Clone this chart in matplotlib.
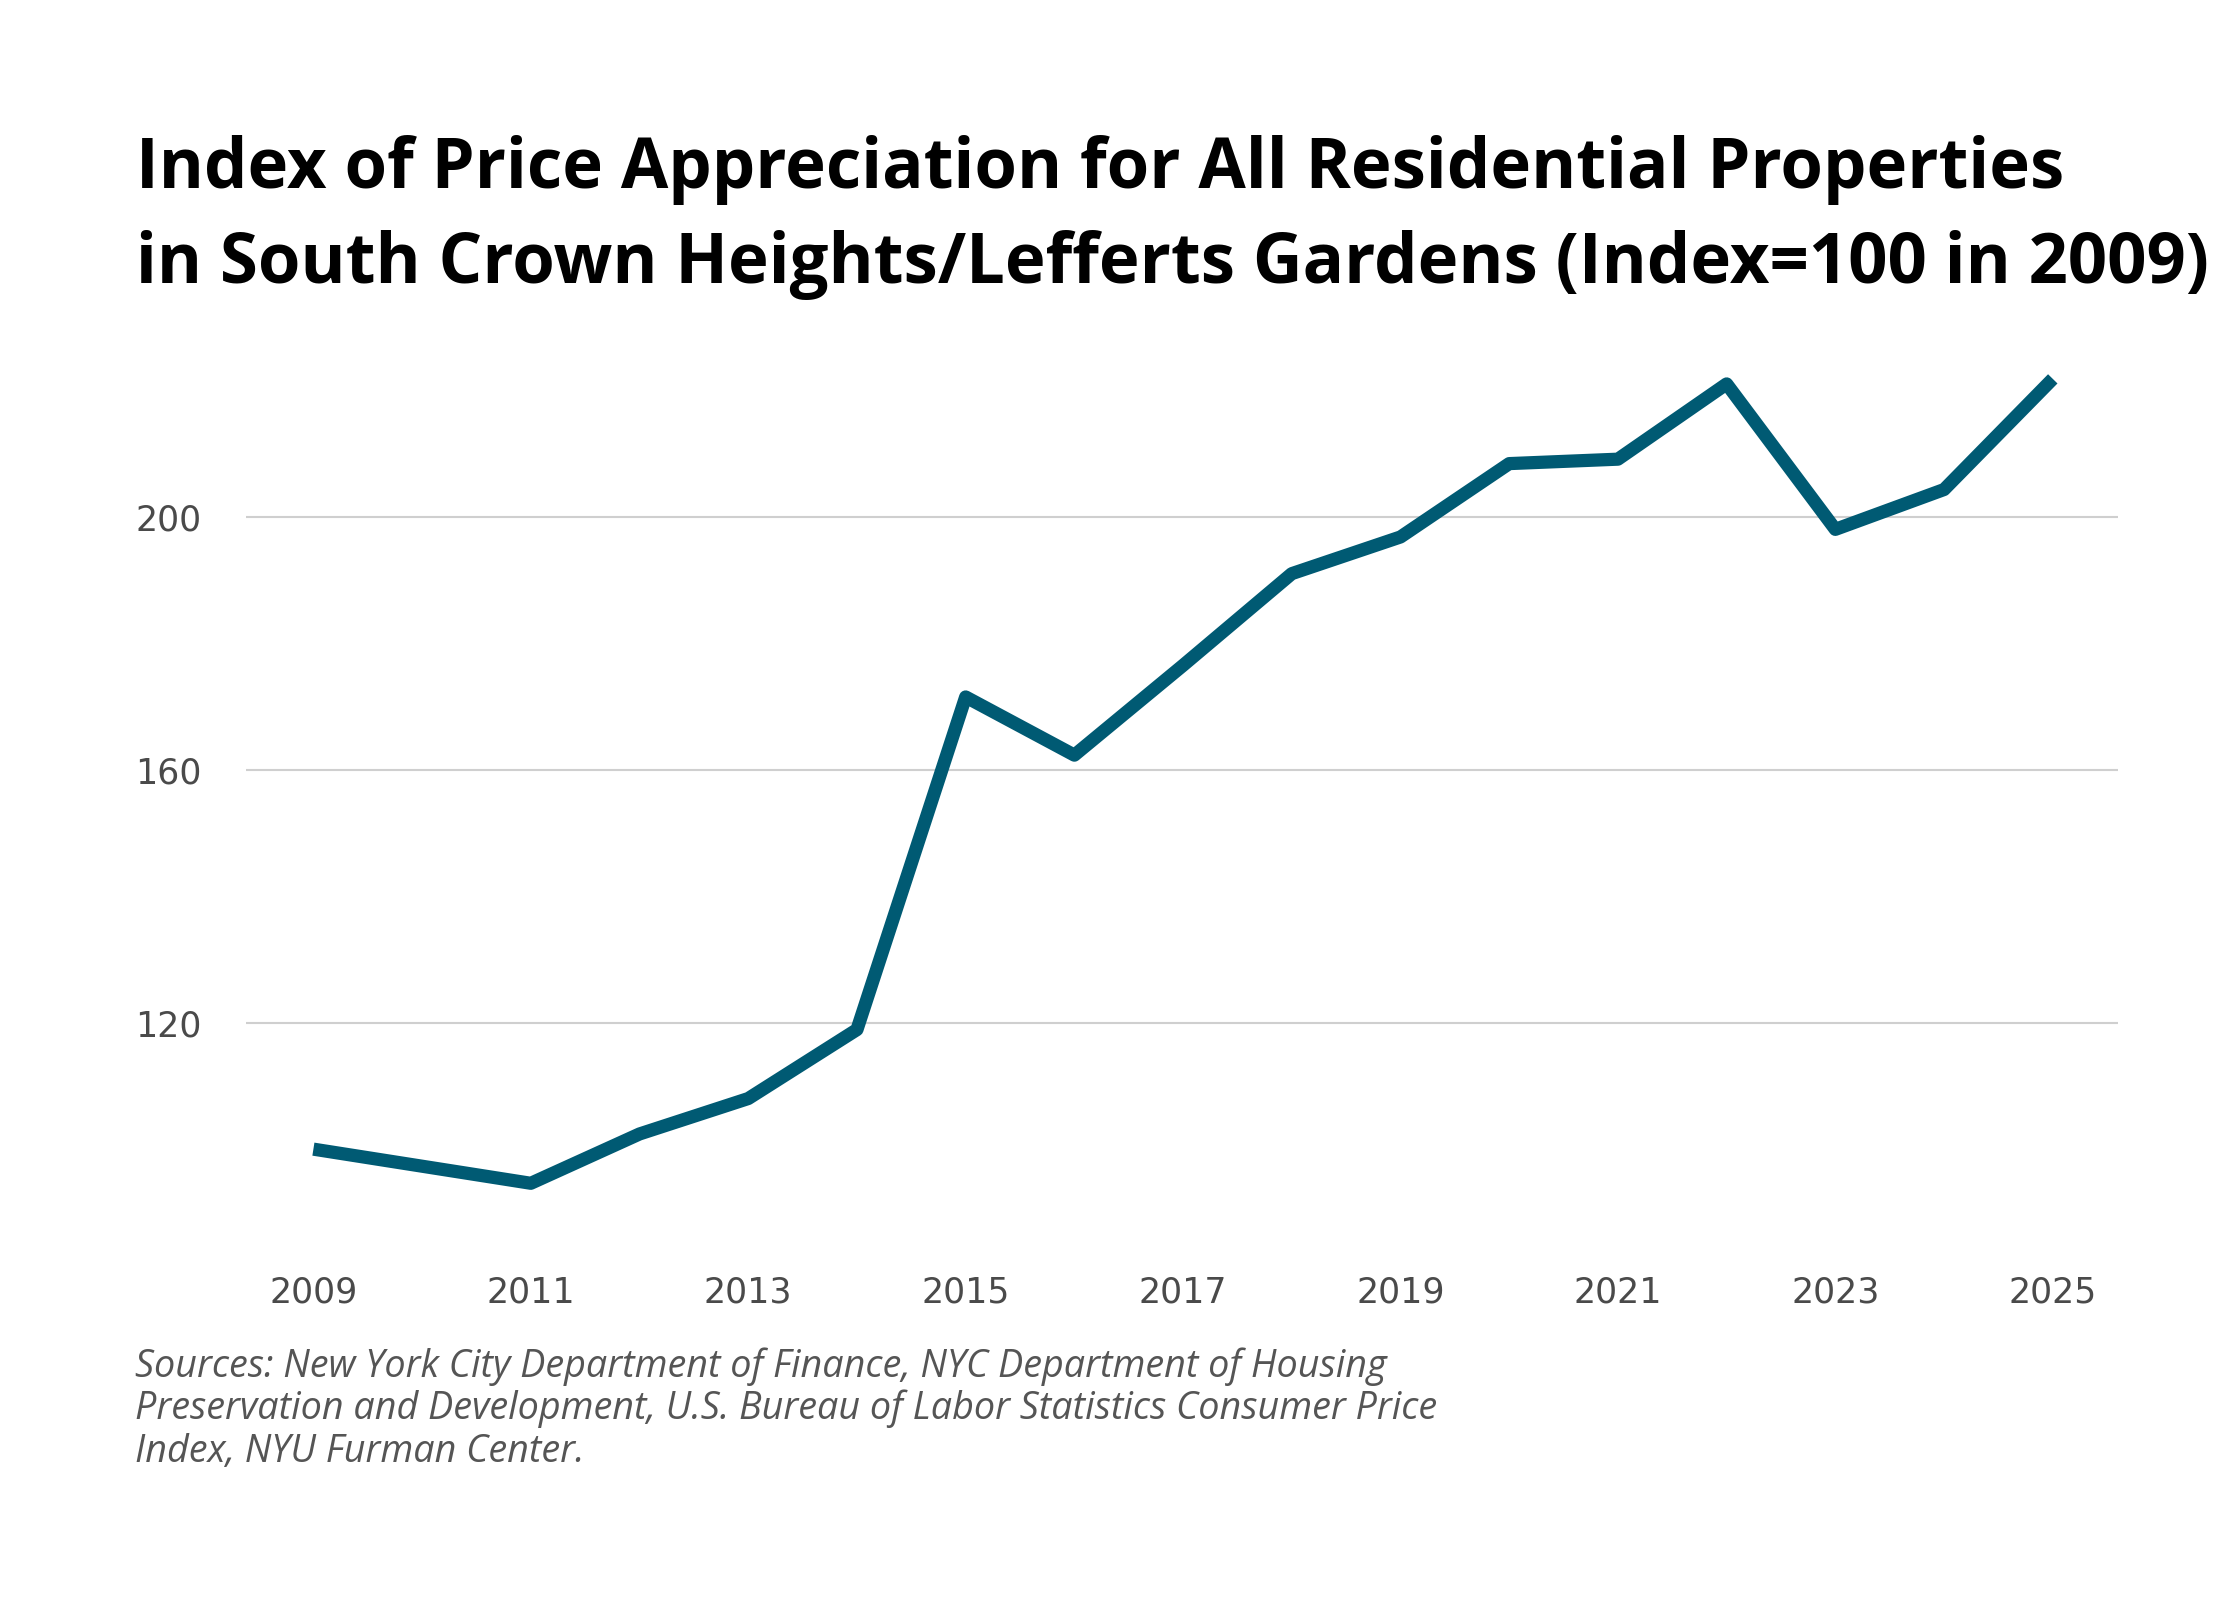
import matplotlib
matplotlib.use("Agg")
import matplotlib.pyplot as plt

years = [2009, 2010, 2011, 2012, 2013, 2014, 2015, 2016, 2017,
         2018, 2019, 2020, 2021, 2022, 2023, 2024, 2025]
index_values = [100.0, 97.3, 94.6, 102.4, 108.0, 118.9, 171.5, 162.3, 176.5,
                191.0, 196.8, 208.4, 209.1, 221.0, 198.0, 204.3, 221.8]
x_ticks = [2009, 2011, 2013, 2015, 2017, 2019, 2021, 2023, 2025]
y_ticks = [120, 160, 200]

title_lines = ["Index of Price Appreciation for All Residential Properties",
               "in South Crown Heights/Lefferts Gardens (Index=100 in 2009)"]
source = ("Sources: New York City Department of Finance, NYC Department of Housing\n"
          "Preservation and Development, U.S. Bureau of Labor Statistics Consumer Price\n"
          "Index, NYU Furman Center.")

W, H = 2240, 1600
fig = plt.figure(figsize=(22.4, 16), dpi=100)
fig.patch.set_facecolor("white")

ax = fig.add_axes([246 / W, 1 - 1244 / H, (2118 - 246) / W, (1244 - 327) / H])
ax.plot(years, index_values, color="#005a73", lw=9.5, solid_joinstyle="round",
        solid_capstyle="butt", zorder=3)

ax.set_xlim(2008.38, 2025.6)
ax.set_ylim(85, 230)
ax.set_xticks(x_ticks)
ax.set_yticks(y_ticks)
ax.set_xticklabels([str(t) for t in x_ticks])
ax.set_yticklabels([str(t) for t in y_ticks])
for s in ax.spines.values():
    s.set_visible(False)
ax.grid(axis="y", color="#cfcfcf", lw=1.5)
ax.set_axisbelow(True)
ax.tick_params(axis="both", length=0, labelsize=25, labelcolor="#4a4a4a")
ax.tick_params(axis="y", pad=32)
ax.tick_params(axis="x", pad=23)
for lab in ax.get_xticklabels() + ax.get_yticklabels():
    lab.set_fontfamily("DejaVu Sans")

fig.text(136 / W, 1 - 188 / H, title_lines[0], fontsize=49.5, fontweight="bold",
         family="Open Sans", color="black", va="baseline", ha="left")
fig.text(136 / W, 1 - 283 / H, title_lines[1], fontsize=49.5, fontweight="bold",
         family="Open Sans", color="black", va="baseline", ha="left")

src_lines = source.split("\n")
for i, ln in enumerate(src_lines):
    fig.text(135 / W, 1 - (1377 + 42.5 * i) / H, ln, fontsize=27.2, style="italic",
             fontweight="normal", family="Open Sans", color="#555555",
             va="baseline", ha="left")

fig.savefig("out.png", dpi=100, facecolor="white")
